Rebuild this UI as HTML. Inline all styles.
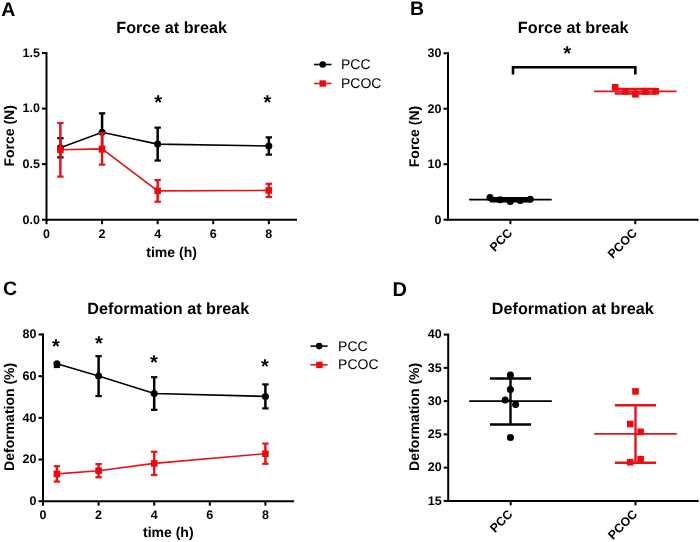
<!DOCTYPE html>
<html><head><meta charset="utf-8"><title>Force and deformation at break</title>
<style>
html,body{margin:0;padding:0;background:#fff;width:700px;height:542px;overflow:hidden;}
svg{display:block;will-change:transform;}
text{font-family:"Liberation Sans", sans-serif;text-rendering:geometricPrecision;}
</style></head>
<body>
<svg width="700" height="542" viewBox="0 0 700 542">
<rect width="700" height="542" fill="#fff"/>
<text x="1.20" y="15.80" font-size="19.5" font-weight="bold" text-anchor="start" fill="#000">A</text>
<text x="171.60" y="33.10" font-size="16.2" font-weight="bold" text-anchor="middle" fill="#000">Force at break</text>
<line x1="46.50" y1="52.05" x2="46.50" y2="220.70" stroke="#000" stroke-width="2.0" stroke-linecap="butt"/>
<line x1="42.00" y1="219.70" x2="46.50" y2="219.70" stroke="#000" stroke-width="2.0" stroke-linecap="butt"/>
<text x="40.00" y="223.50" font-size="12.5" font-weight="bold" text-anchor="end" fill="#000">0.0</text>
<line x1="42.00" y1="164.15" x2="46.50" y2="164.15" stroke="#000" stroke-width="2.0" stroke-linecap="butt"/>
<text x="40.00" y="167.95" font-size="12.5" font-weight="bold" text-anchor="end" fill="#000">0.5</text>
<line x1="42.00" y1="108.60" x2="46.50" y2="108.60" stroke="#000" stroke-width="2.0" stroke-linecap="butt"/>
<text x="40.00" y="112.40" font-size="12.5" font-weight="bold" text-anchor="end" fill="#000">1.0</text>
<line x1="42.00" y1="53.05" x2="46.50" y2="53.05" stroke="#000" stroke-width="2.0" stroke-linecap="butt"/>
<text x="40.00" y="56.85" font-size="12.5" font-weight="bold" text-anchor="end" fill="#000">1.5</text>
<line x1="45.50" y1="219.70" x2="297.01" y2="219.70" stroke="#000" stroke-width="2.0" stroke-linecap="butt"/>
<line x1="46.50" y1="219.70" x2="46.50" y2="224.20" stroke="#000" stroke-width="2.0" stroke-linecap="butt"/>
<text x="46.50" y="237.90" font-size="12.5" font-weight="bold" text-anchor="middle" fill="#000">0</text>
<line x1="102.08" y1="219.70" x2="102.08" y2="224.20" stroke="#000" stroke-width="2.0" stroke-linecap="butt"/>
<text x="102.08" y="237.90" font-size="12.5" font-weight="bold" text-anchor="middle" fill="#000">2</text>
<line x1="157.66" y1="219.70" x2="157.66" y2="224.20" stroke="#000" stroke-width="2.0" stroke-linecap="butt"/>
<text x="157.66" y="237.90" font-size="12.5" font-weight="bold" text-anchor="middle" fill="#000">4</text>
<line x1="213.24" y1="219.70" x2="213.24" y2="224.20" stroke="#000" stroke-width="2.0" stroke-linecap="butt"/>
<text x="213.24" y="237.90" font-size="12.5" font-weight="bold" text-anchor="middle" fill="#000">6</text>
<line x1="268.82" y1="219.70" x2="268.82" y2="224.20" stroke="#000" stroke-width="2.0" stroke-linecap="butt"/>
<text x="268.82" y="237.90" font-size="12.5" font-weight="bold" text-anchor="middle" fill="#000">8</text>
<text x="14.30" y="135.88" font-size="14" font-weight="bold" text-anchor="middle" transform="rotate(-90 14.30 135.88)" fill="#000">Force (N)</text>
<text x="171.60" y="256.50" font-size="14" font-weight="bold" text-anchor="middle" fill="#000">time (h)</text>
<polyline points="60.39,147.80 102.08,132.30 157.66,144.10 268.82,146.00" fill="none" stroke="#000" stroke-width="1.6"/>
<line x1="60.39" y1="138.20" x2="60.39" y2="157.40" stroke="#000" stroke-width="2.5" stroke-linecap="butt"/>
<line x1="57.19" y1="138.20" x2="63.59" y2="138.20" stroke="#000" stroke-width="2.2" stroke-linecap="butt"/>
<line x1="57.19" y1="157.40" x2="63.59" y2="157.40" stroke="#000" stroke-width="2.2" stroke-linecap="butt"/>
<circle cx="60.39" cy="147.80" r="3.5" fill="#000"/>
<line x1="102.08" y1="113.30" x2="102.08" y2="151.30" stroke="#000" stroke-width="2.5" stroke-linecap="butt"/>
<line x1="98.88" y1="113.30" x2="105.28" y2="113.30" stroke="#000" stroke-width="2.2" stroke-linecap="butt"/>
<line x1="98.88" y1="151.30" x2="105.28" y2="151.30" stroke="#000" stroke-width="2.2" stroke-linecap="butt"/>
<circle cx="102.08" cy="132.30" r="3.5" fill="#000"/>
<line x1="157.66" y1="127.65" x2="157.66" y2="160.55" stroke="#000" stroke-width="2.5" stroke-linecap="butt"/>
<line x1="154.46" y1="127.65" x2="160.86" y2="127.65" stroke="#000" stroke-width="2.2" stroke-linecap="butt"/>
<line x1="154.46" y1="160.55" x2="160.86" y2="160.55" stroke="#000" stroke-width="2.2" stroke-linecap="butt"/>
<circle cx="157.66" cy="144.10" r="3.5" fill="#000"/>
<line x1="268.82" y1="137.35" x2="268.82" y2="154.65" stroke="#000" stroke-width="2.5" stroke-linecap="butt"/>
<line x1="265.62" y1="137.35" x2="272.02" y2="137.35" stroke="#000" stroke-width="2.2" stroke-linecap="butt"/>
<line x1="265.62" y1="154.65" x2="272.02" y2="154.65" stroke="#000" stroke-width="2.2" stroke-linecap="butt"/>
<circle cx="268.82" cy="146.00" r="3.5" fill="#000"/>
<polyline points="60.39,149.80 102.08,148.90 157.66,190.90 268.82,190.40" fill="none" stroke="rgb(228,20,26)" stroke-width="1.6"/>
<line x1="60.39" y1="123.00" x2="60.39" y2="176.60" stroke="rgb(228,20,26)" stroke-width="2.5" stroke-linecap="butt"/>
<line x1="57.19" y1="123.00" x2="63.59" y2="123.00" stroke="rgb(228,20,26)" stroke-width="2.2" stroke-linecap="butt"/>
<line x1="57.19" y1="176.60" x2="63.59" y2="176.60" stroke="rgb(228,20,26)" stroke-width="2.2" stroke-linecap="butt"/>
<rect x="57.09" y="146.50" width="6.6" height="6.6" fill="rgb(240,8,14)"/>
<line x1="102.08" y1="133.20" x2="102.08" y2="164.60" stroke="rgb(228,20,26)" stroke-width="2.5" stroke-linecap="butt"/>
<line x1="98.88" y1="133.20" x2="105.28" y2="133.20" stroke="rgb(228,20,26)" stroke-width="2.2" stroke-linecap="butt"/>
<line x1="98.88" y1="164.60" x2="105.28" y2="164.60" stroke="rgb(228,20,26)" stroke-width="2.2" stroke-linecap="butt"/>
<rect x="98.78" y="145.60" width="6.6" height="6.6" fill="rgb(240,8,14)"/>
<line x1="157.66" y1="180.10" x2="157.66" y2="201.70" stroke="rgb(228,20,26)" stroke-width="2.5" stroke-linecap="butt"/>
<line x1="154.46" y1="180.10" x2="160.86" y2="180.10" stroke="rgb(228,20,26)" stroke-width="2.2" stroke-linecap="butt"/>
<line x1="154.46" y1="201.70" x2="160.86" y2="201.70" stroke="rgb(228,20,26)" stroke-width="2.2" stroke-linecap="butt"/>
<rect x="154.36" y="187.60" width="6.6" height="6.6" fill="rgb(240,8,14)"/>
<line x1="268.82" y1="183.80" x2="268.82" y2="197.00" stroke="rgb(228,20,26)" stroke-width="2.5" stroke-linecap="butt"/>
<line x1="265.62" y1="183.80" x2="272.02" y2="183.80" stroke="rgb(228,20,26)" stroke-width="2.2" stroke-linecap="butt"/>
<line x1="265.62" y1="197.00" x2="272.02" y2="197.00" stroke="rgb(228,20,26)" stroke-width="2.2" stroke-linecap="butt"/>
<rect x="265.52" y="187.10" width="6.6" height="6.6" fill="rgb(240,8,14)"/>
<text x="158.10" y="108.80" font-size="20" font-weight="bold" text-anchor="middle" fill="#000">*</text>
<text x="267.40" y="108.85" font-size="20" font-weight="bold" text-anchor="middle" fill="#000">*</text>
<line x1="314.00" y1="64.50" x2="331.50" y2="64.50" stroke="#000" stroke-width="1.6" stroke-linecap="butt"/>
<circle cx="322.70" cy="64.50" r="3.3" fill="#000"/>
<line x1="314.00" y1="83.50" x2="331.50" y2="83.50" stroke="rgb(228,20,26)" stroke-width="1.6" stroke-linecap="butt"/>
<rect x="319.50" y="80.30" width="6.4" height="6.4" fill="rgb(240,8,14)"/>
<text x="341.00" y="69.10" font-size="14" text-anchor="start" fill="#000">PCC</text>
<text x="341.00" y="88.20" font-size="14" text-anchor="start" fill="#000">PCOC</text>
<text x="410.00" y="14.90" font-size="19.5" font-weight="bold" text-anchor="start" fill="#000">B</text>
<text x="573.20" y="32.80" font-size="16.2" font-weight="bold" text-anchor="middle" fill="#000">Force at break</text>
<line x1="448.00" y1="52.26" x2="448.00" y2="220.70" stroke="#000" stroke-width="2.0" stroke-linecap="butt"/>
<line x1="443.50" y1="219.70" x2="448.00" y2="219.70" stroke="#000" stroke-width="2.0" stroke-linecap="butt"/>
<text x="441.50" y="223.50" font-size="12.5" font-weight="bold" text-anchor="end" fill="#000">0</text>
<line x1="443.50" y1="164.22" x2="448.00" y2="164.22" stroke="#000" stroke-width="2.0" stroke-linecap="butt"/>
<text x="441.50" y="168.02" font-size="12.5" font-weight="bold" text-anchor="end" fill="#000">10</text>
<line x1="443.50" y1="108.74" x2="448.00" y2="108.74" stroke="#000" stroke-width="2.0" stroke-linecap="butt"/>
<text x="441.50" y="112.54" font-size="12.5" font-weight="bold" text-anchor="end" fill="#000">20</text>
<line x1="443.50" y1="53.26" x2="448.00" y2="53.26" stroke="#000" stroke-width="2.0" stroke-linecap="butt"/>
<text x="441.50" y="57.06" font-size="12.5" font-weight="bold" text-anchor="end" fill="#000">30</text>
<line x1="447.00" y1="219.70" x2="698.60" y2="219.70" stroke="#000" stroke-width="2.0" stroke-linecap="butt"/>
<line x1="510.40" y1="219.70" x2="510.40" y2="224.20" stroke="#000" stroke-width="2.0" stroke-linecap="butt"/>
<text x="513.00" y="233.80" font-size="12.3" font-weight="bold" text-anchor="end" transform="rotate(-45 513.00 233.80)" fill="#000">PCC</text>
<line x1="635.30" y1="219.70" x2="635.30" y2="224.20" stroke="#000" stroke-width="2.0" stroke-linecap="butt"/>
<text x="637.90" y="233.80" font-size="12.3" font-weight="bold" text-anchor="end" transform="rotate(-45 637.90 233.80)" fill="#000">PCOC</text>
<text x="419.00" y="136.48" font-size="14" font-weight="bold" text-anchor="middle" transform="rotate(-90 419.00 136.48)" fill="#000">Force (N)</text>
<line x1="469.10" y1="199.60" x2="551.70" y2="199.60" stroke="#000" stroke-width="1.8" stroke-linecap="butt"/>
<line x1="510.40" y1="198.20" x2="510.40" y2="201.20" stroke="#000" stroke-width="2.4" stroke-linecap="butt"/>
<line x1="489.80" y1="198.20" x2="531.00" y2="198.20" stroke="#000" stroke-width="2.5" stroke-linecap="butt"/>
<line x1="489.80" y1="201.20" x2="531.00" y2="201.20" stroke="#000" stroke-width="2.5" stroke-linecap="butt"/>
<circle cx="490.00" cy="197.40" r="3.5" fill="#000"/>
<circle cx="500.30" cy="199.70" r="3.5" fill="#000"/>
<circle cx="510.20" cy="201.40" r="3.5" fill="#000"/>
<circle cx="520.30" cy="200.40" r="3.5" fill="#000"/>
<circle cx="530.30" cy="199.30" r="3.5" fill="#000"/>
<line x1="594.00" y1="91.30" x2="676.60" y2="91.30" stroke="rgb(228,20,26)" stroke-width="1.8" stroke-linecap="butt"/>
<line x1="635.30" y1="89.00" x2="635.30" y2="93.60" stroke="rgb(228,20,26)" stroke-width="2.4" stroke-linecap="butt"/>
<line x1="614.70" y1="89.00" x2="655.90" y2="89.00" stroke="rgb(228,20,26)" stroke-width="2.5" stroke-linecap="butt"/>
<line x1="614.70" y1="93.60" x2="655.90" y2="93.60" stroke="rgb(228,20,26)" stroke-width="2.5" stroke-linecap="butt"/>
<rect x="611.90" y="84.00" width="6.6" height="6.6" fill="rgb(240,8,14)"/>
<rect x="622.00" y="88.00" width="6.6" height="6.6" fill="rgb(240,8,14)"/>
<rect x="632.10" y="91.00" width="6.6" height="6.6" fill="rgb(240,8,14)"/>
<rect x="642.20" y="88.20" width="6.6" height="6.6" fill="rgb(240,8,14)"/>
<rect x="652.40" y="88.00" width="6.6" height="6.6" fill="rgb(240,8,14)"/>
<path d="M513,74.6 V67.3 H635.3 V74.6" fill="none" stroke="#000" stroke-width="2.6"/>
<text x="567.05" y="59.65" font-size="20" font-weight="bold" text-anchor="middle" fill="#000">*</text>
<text x="3.00" y="295.40" font-size="19.5" font-weight="bold" text-anchor="start" fill="#000">C</text>
<text x="168.30" y="314.40" font-size="16.2" font-weight="bold" text-anchor="middle" fill="#000">Deformation at break</text>
<line x1="43.00" y1="333.48" x2="43.00" y2="502.20" stroke="#000" stroke-width="2.0" stroke-linecap="butt"/>
<line x1="38.50" y1="501.20" x2="43.00" y2="501.20" stroke="#000" stroke-width="2.0" stroke-linecap="butt"/>
<text x="36.50" y="505.00" font-size="12.5" font-weight="bold" text-anchor="end" fill="#000">0</text>
<line x1="38.50" y1="459.52" x2="43.00" y2="459.52" stroke="#000" stroke-width="2.0" stroke-linecap="butt"/>
<text x="36.50" y="463.32" font-size="12.5" font-weight="bold" text-anchor="end" fill="#000">20</text>
<line x1="38.50" y1="417.84" x2="43.00" y2="417.84" stroke="#000" stroke-width="2.0" stroke-linecap="butt"/>
<text x="36.50" y="421.64" font-size="12.5" font-weight="bold" text-anchor="end" fill="#000">40</text>
<line x1="38.50" y1="376.16" x2="43.00" y2="376.16" stroke="#000" stroke-width="2.0" stroke-linecap="butt"/>
<text x="36.50" y="379.96" font-size="12.5" font-weight="bold" text-anchor="end" fill="#000">60</text>
<line x1="38.50" y1="334.48" x2="43.00" y2="334.48" stroke="#000" stroke-width="2.0" stroke-linecap="butt"/>
<text x="36.50" y="338.28" font-size="12.5" font-weight="bold" text-anchor="end" fill="#000">80</text>
<line x1="42.00" y1="501.20" x2="294.10" y2="501.20" stroke="#000" stroke-width="2.0" stroke-linecap="butt"/>
<line x1="43.00" y1="501.20" x2="43.00" y2="505.70" stroke="#000" stroke-width="2.0" stroke-linecap="butt"/>
<text x="43.00" y="519.40" font-size="12.5" font-weight="bold" text-anchor="middle" fill="#000">0</text>
<line x1="98.60" y1="501.20" x2="98.60" y2="505.70" stroke="#000" stroke-width="2.0" stroke-linecap="butt"/>
<text x="98.60" y="519.40" font-size="12.5" font-weight="bold" text-anchor="middle" fill="#000">2</text>
<line x1="154.20" y1="501.20" x2="154.20" y2="505.70" stroke="#000" stroke-width="2.0" stroke-linecap="butt"/>
<text x="154.20" y="519.40" font-size="12.5" font-weight="bold" text-anchor="middle" fill="#000">4</text>
<line x1="209.80" y1="501.20" x2="209.80" y2="505.70" stroke="#000" stroke-width="2.0" stroke-linecap="butt"/>
<text x="209.80" y="519.40" font-size="12.5" font-weight="bold" text-anchor="middle" fill="#000">6</text>
<line x1="265.40" y1="501.20" x2="265.40" y2="505.70" stroke="#000" stroke-width="2.0" stroke-linecap="butt"/>
<text x="265.40" y="519.40" font-size="12.5" font-weight="bold" text-anchor="middle" fill="#000">8</text>
<text x="14.50" y="416.84" font-size="14" font-weight="bold" text-anchor="middle" transform="rotate(-90 14.50 416.84)" fill="#000">Deformation (%)</text>
<text x="168.30" y="537.30" font-size="14" font-weight="bold" text-anchor="middle" fill="#000">time (h)</text>
<polyline points="56.90,363.80 98.60,376.10 154.20,393.50 265.40,396.40" fill="none" stroke="#000" stroke-width="1.6"/>
<line x1="53.80" y1="367.00" x2="60.00" y2="367.00" stroke="#000" stroke-width="2.2" stroke-linecap="butt"/>
<line x1="56.90" y1="364.00" x2="56.90" y2="367.00" stroke="#000" stroke-width="2.5" stroke-linecap="butt"/>
<circle cx="56.90" cy="363.80" r="3.5" fill="#000"/>
<line x1="98.60" y1="356.15" x2="98.60" y2="396.05" stroke="#000" stroke-width="2.5" stroke-linecap="butt"/>
<line x1="95.40" y1="356.15" x2="101.80" y2="356.15" stroke="#000" stroke-width="2.2" stroke-linecap="butt"/>
<line x1="95.40" y1="396.05" x2="101.80" y2="396.05" stroke="#000" stroke-width="2.2" stroke-linecap="butt"/>
<circle cx="98.60" cy="376.10" r="3.5" fill="#000"/>
<line x1="154.20" y1="377.20" x2="154.20" y2="409.80" stroke="#000" stroke-width="2.5" stroke-linecap="butt"/>
<line x1="151.00" y1="377.20" x2="157.40" y2="377.20" stroke="#000" stroke-width="2.2" stroke-linecap="butt"/>
<line x1="151.00" y1="409.80" x2="157.40" y2="409.80" stroke="#000" stroke-width="2.2" stroke-linecap="butt"/>
<circle cx="154.20" cy="393.50" r="3.5" fill="#000"/>
<line x1="265.40" y1="384.40" x2="265.40" y2="408.40" stroke="#000" stroke-width="2.5" stroke-linecap="butt"/>
<line x1="262.20" y1="384.40" x2="268.60" y2="384.40" stroke="#000" stroke-width="2.2" stroke-linecap="butt"/>
<line x1="262.20" y1="408.40" x2="268.60" y2="408.40" stroke="#000" stroke-width="2.2" stroke-linecap="butt"/>
<circle cx="265.40" cy="396.40" r="3.5" fill="#000"/>
<polyline points="56.90,473.90 98.60,470.70 154.20,463.40 265.40,453.70" fill="none" stroke="rgb(228,20,26)" stroke-width="1.6"/>
<line x1="56.90" y1="466.20" x2="56.90" y2="481.60" stroke="rgb(228,20,26)" stroke-width="2.5" stroke-linecap="butt"/>
<line x1="53.70" y1="466.20" x2="60.10" y2="466.20" stroke="rgb(228,20,26)" stroke-width="2.2" stroke-linecap="butt"/>
<line x1="53.70" y1="481.60" x2="60.10" y2="481.60" stroke="rgb(228,20,26)" stroke-width="2.2" stroke-linecap="butt"/>
<rect x="53.60" y="470.60" width="6.6" height="6.6" fill="rgb(240,8,14)"/>
<line x1="98.60" y1="464.10" x2="98.60" y2="477.30" stroke="rgb(228,20,26)" stroke-width="2.5" stroke-linecap="butt"/>
<line x1="95.40" y1="464.10" x2="101.80" y2="464.10" stroke="rgb(228,20,26)" stroke-width="2.2" stroke-linecap="butt"/>
<line x1="95.40" y1="477.30" x2="101.80" y2="477.30" stroke="rgb(228,20,26)" stroke-width="2.2" stroke-linecap="butt"/>
<rect x="95.30" y="467.40" width="6.6" height="6.6" fill="rgb(240,8,14)"/>
<line x1="154.20" y1="451.75" x2="154.20" y2="475.05" stroke="rgb(228,20,26)" stroke-width="2.5" stroke-linecap="butt"/>
<line x1="151.00" y1="451.75" x2="157.40" y2="451.75" stroke="rgb(228,20,26)" stroke-width="2.2" stroke-linecap="butt"/>
<line x1="151.00" y1="475.05" x2="157.40" y2="475.05" stroke="rgb(228,20,26)" stroke-width="2.2" stroke-linecap="butt"/>
<rect x="150.90" y="460.10" width="6.6" height="6.6" fill="rgb(240,8,14)"/>
<line x1="265.40" y1="443.60" x2="265.40" y2="463.80" stroke="rgb(228,20,26)" stroke-width="2.5" stroke-linecap="butt"/>
<line x1="262.20" y1="443.60" x2="268.60" y2="443.60" stroke="rgb(228,20,26)" stroke-width="2.2" stroke-linecap="butt"/>
<line x1="262.20" y1="463.80" x2="268.60" y2="463.80" stroke="rgb(228,20,26)" stroke-width="2.2" stroke-linecap="butt"/>
<rect x="262.10" y="450.40" width="6.6" height="6.6" fill="rgb(240,8,14)"/>
<text x="55.80" y="353.20" font-size="20" font-weight="bold" text-anchor="middle" fill="#000">*</text>
<text x="99.00" y="350.05" font-size="20" font-weight="bold" text-anchor="middle" fill="#000">*</text>
<text x="154.00" y="369.05" font-size="20" font-weight="bold" text-anchor="middle" fill="#000">*</text>
<text x="265.00" y="373.30" font-size="20" font-weight="bold" text-anchor="middle" fill="#000">*</text>
<line x1="310.50" y1="346.10" x2="327.60" y2="346.10" stroke="#000" stroke-width="1.6" stroke-linecap="butt"/>
<circle cx="319.20" cy="346.10" r="3.3" fill="#000"/>
<line x1="310.50" y1="364.80" x2="327.60" y2="364.80" stroke="rgb(228,20,26)" stroke-width="1.6" stroke-linecap="butt"/>
<rect x="316.20" y="361.70" width="6.4" height="6.4" fill="rgb(240,8,14)"/>
<text x="338.10" y="350.50" font-size="14" text-anchor="start" fill="#000">PCC</text>
<text x="338.10" y="369.40" font-size="14" text-anchor="start" fill="#000">PCOC</text>
<text x="392.60" y="295.50" font-size="20" font-weight="bold" text-anchor="start" fill="#000">D</text>
<text x="572.80" y="314.40" font-size="16.2" font-weight="bold" text-anchor="middle" fill="#000">Deformation at break</text>
<line x1="448.20" y1="333.60" x2="448.20" y2="501.90" stroke="#000" stroke-width="2.0" stroke-linecap="butt"/>
<line x1="443.70" y1="500.90" x2="448.20" y2="500.90" stroke="#000" stroke-width="2.0" stroke-linecap="butt"/>
<text x="441.70" y="504.70" font-size="12.5" font-weight="bold" text-anchor="end" fill="#000">15</text>
<line x1="443.70" y1="467.64" x2="448.20" y2="467.64" stroke="#000" stroke-width="2.0" stroke-linecap="butt"/>
<text x="441.70" y="471.44" font-size="12.5" font-weight="bold" text-anchor="end" fill="#000">20</text>
<line x1="443.70" y1="434.38" x2="448.20" y2="434.38" stroke="#000" stroke-width="2.0" stroke-linecap="butt"/>
<text x="441.70" y="438.18" font-size="12.5" font-weight="bold" text-anchor="end" fill="#000">25</text>
<line x1="443.70" y1="401.12" x2="448.20" y2="401.12" stroke="#000" stroke-width="2.0" stroke-linecap="butt"/>
<text x="441.70" y="404.92" font-size="12.5" font-weight="bold" text-anchor="end" fill="#000">30</text>
<line x1="443.70" y1="367.86" x2="448.20" y2="367.86" stroke="#000" stroke-width="2.0" stroke-linecap="butt"/>
<text x="441.70" y="371.66" font-size="12.5" font-weight="bold" text-anchor="end" fill="#000">35</text>
<line x1="443.70" y1="334.60" x2="448.20" y2="334.60" stroke="#000" stroke-width="2.0" stroke-linecap="butt"/>
<text x="441.70" y="338.40" font-size="12.5" font-weight="bold" text-anchor="end" fill="#000">40</text>
<line x1="447.20" y1="500.90" x2="698.60" y2="500.90" stroke="#000" stroke-width="2.0" stroke-linecap="butt"/>
<line x1="510.70" y1="500.90" x2="510.70" y2="505.40" stroke="#000" stroke-width="2.0" stroke-linecap="butt"/>
<text x="513.30" y="515.00" font-size="12.3" font-weight="bold" text-anchor="end" transform="rotate(-45 513.30 515.00)" fill="#000">PCC</text>
<line x1="635.50" y1="500.90" x2="635.50" y2="505.40" stroke="#000" stroke-width="2.0" stroke-linecap="butt"/>
<text x="638.10" y="515.00" font-size="12.3" font-weight="bold" text-anchor="end" transform="rotate(-45 638.10 515.00)" fill="#000">PCOC</text>
<text x="419.00" y="416.85" font-size="14" font-weight="bold" text-anchor="middle" transform="rotate(-90 419.00 416.85)" fill="#000">Deformation (%)</text>
<line x1="469.20" y1="401.10" x2="551.80" y2="401.10" stroke="#000" stroke-width="1.8" stroke-linecap="butt"/>
<line x1="510.50" y1="378.40" x2="510.50" y2="424.50" stroke="#000" stroke-width="2.4" stroke-linecap="butt"/>
<line x1="489.90" y1="378.40" x2="531.10" y2="378.40" stroke="#000" stroke-width="2.5" stroke-linecap="butt"/>
<line x1="489.90" y1="424.50" x2="531.10" y2="424.50" stroke="#000" stroke-width="2.5" stroke-linecap="butt"/>
<circle cx="510.40" cy="375.00" r="3.5" fill="#000"/>
<circle cx="510.40" cy="389.60" r="3.5" fill="#000"/>
<circle cx="505.20" cy="399.90" r="3.5" fill="#000"/>
<circle cx="515.60" cy="404.50" r="3.5" fill="#000"/>
<circle cx="510.45" cy="437.40" r="3.5" fill="#000"/>
<line x1="594.20" y1="433.80" x2="676.80" y2="433.80" stroke="rgb(228,20,26)" stroke-width="1.8" stroke-linecap="butt"/>
<line x1="635.50" y1="405.20" x2="635.50" y2="462.80" stroke="rgb(228,20,26)" stroke-width="2.4" stroke-linecap="butt"/>
<line x1="614.90" y1="405.20" x2="656.10" y2="405.20" stroke="rgb(228,20,26)" stroke-width="2.5" stroke-linecap="butt"/>
<line x1="614.90" y1="462.80" x2="656.10" y2="462.80" stroke="rgb(228,20,26)" stroke-width="2.5" stroke-linecap="butt"/>
<rect x="632.20" y="388.10" width="6.6" height="6.6" fill="rgb(240,8,14)"/>
<rect x="626.90" y="420.70" width="6.6" height="6.6" fill="rgb(240,8,14)"/>
<rect x="637.30" y="428.50" width="6.6" height="6.6" fill="rgb(240,8,14)"/>
<rect x="626.90" y="458.90" width="6.6" height="6.6" fill="rgb(240,8,14)"/>
<rect x="637.30" y="455.90" width="6.6" height="6.6" fill="rgb(240,8,14)"/>
</svg>
</body></html>
